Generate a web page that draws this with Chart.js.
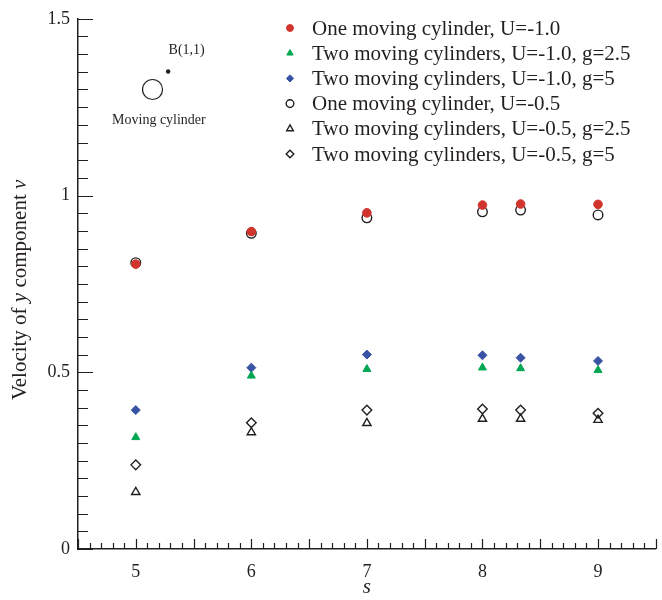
<!DOCTYPE html>
<html>
<head>
<meta charset="utf-8">
<script src="https://cdn.jsdelivr.net/npm/chart.js@4.4.1/dist/chart.umd.min.js"></script>
<style>
  body { margin: 0; background: #fff; }
  #wrap { width: 662px; height: 600px; }
</style>
</head>
<body>
<div id="wrap"><canvas id="velocityChart" width="662" height="600"></canvas></div>
<script>
// data
const sValues = [5, 6, 7, 8, 8.33, 9];
const oneU10 = [0.806, 0.898, 0.951, 0.973, 0.976, 0.975];
const twoU10g25 = [0.316, 0.490, 0.509, 0.513, 0.511, 0.506];
const twoU10g5 = [0.393, 0.513, 0.550, 0.548, 0.541, 0.532];
const oneU05 = [0.810, 0.893, 0.937, 0.954, 0.959, 0.945];
const twoU05g25 = [0.161, 0.330, 0.356, 0.368, 0.368, 0.365];
const twoU05g5 = [0.238, 0.357, 0.393, 0.396, 0.393, 0.384];
const xTicks = [5, 6, 7, 8, 9];
const yTicks = [0, 0.5, 1, 1.5];

const ink = '#231f20';
const serif = "'Liberation Serif', 'Times New Roman', serif";

function pts(vals) {
    return sValues.map((s, i) => ({ x: s, y: vals[i] }));
}

function series(label, vals, style, radius, fill, stroke, bw) {
    return {
        label: label,
        data: pts(vals),
        pointStyle: style,
        pointRadius: radius,
        pointHoverRadius: radius,
        pointBackgroundColor: fill,
        pointBorderColor: stroke,
        pointBorderWidth: bw,
        showLine: false
    };
}

// axis minor ticks, drawn inward like the original
const minorTicks = {
    id: 'minorTicks',
    afterDraw(chart) {
        const ctx = chart.ctx;
        const x = chart.scales.x, y = chart.scales.y;
        const a = chart.chartArea;
        ctx.save();
        ctx.strokeStyle = ink;
        ctx.lineWidth = 1.2;
        ctx.beginPath();
        for (let k = 45; k <= 95; k++) {
            const px = Math.round(x.getPixelForValue(k / 10)) + 0.5;
            const len = k % 5 === 0 ? 10 : 6;
            ctx.moveTo(px, a.bottom);
            ctx.lineTo(px, a.bottom - len);
        }
        for (let k = 0; k <= 30; k++) {
            const py = Math.round(y.getPixelForValue(k / 20)) + 0.5;
            const len = k % 10 === 0 ? 15 : 10;
            ctx.moveTo(a.left, py);
            ctx.lineTo(a.left + len, py);
        }
        ctx.stroke();
        ctx.restore();
    }
};

// y title with italic letters, the inset sketch and the legend
const extras = {
    id: 'extras',
    afterDraw(chart) {
        const ctx = chart.ctx;
        const a = chart.chartArea;
        const x = chart.scales.x, y = chart.scales.y;
        ctx.save();
        ctx.fillStyle = ink;

        // y axis title
        const parts = [['Velocity of ', ''], ['y', 'italic '], [' component ', ''], ['v', 'italic ']];
        let total = 0;
        parts.forEach(p => { ctx.font = p[1] + '21px ' + serif; total += ctx.measureText(p[0]).width; });
        ctx.translate(20, (a.top + a.bottom) / 2 + 6);
        ctx.rotate(-Math.PI / 2);
        ctx.textBaseline = 'middle';
        ctx.textAlign = 'left';
        let cx = -total / 2;
        parts.forEach(p => {
            ctx.font = p[1] + '21px ' + serif;
            ctx.fillText(p[0], cx, 0);
            cx += ctx.measureText(p[0]).width;
        });
        ctx.setTransform(1, 0, 0, 1, 0, 0);

        // inset: moving cylinder and point B
        ctx.strokeStyle = ink;
        ctx.lineWidth = 1.2;
        ctx.beginPath();
        ctx.arc(x.getPixelForValue(5.145), y.getPixelForValue(1.30), 10, 0, Math.PI * 2);
        ctx.stroke();
        ctx.beginPath();
        ctx.arc(x.getPixelForValue(5.28), y.getPixelForValue(1.351), 2.2, 0, Math.PI * 2);
        ctx.fill();
        ctx.font = '14px ' + serif;
        ctx.textAlign = 'center';
        ctx.textBaseline = 'middle';
        ctx.fillText('B(1,1)', x.getPixelForValue(5.44), y.getPixelForValue(1.41));
        ctx.fillText('Moving cylinder', x.getPixelForValue(5.2), y.getPixelForValue(1.213));

        // legend
        ctx.font = '21px ' + serif;
        ctx.textAlign = 'left';
        chart.data.datasets.forEach((ds, i) => {
            const ly = 28 + 25.2 * i;
            ctx.fillStyle = ds.pointBackgroundColor;
            ctx.strokeStyle = ds.pointBorderColor;
            ctx.lineWidth = ds.pointBorderWidth;
            Chart.helpers.drawPoint(ctx, {
                pointStyle: ds.pointStyle,
                radius: ds.pointRadius * 0.8,
                rotation: 0,
                borderWidth: ds.pointBorderWidth
            }, 290, ly);
            ctx.fillStyle = ink;
            ctx.fillText(ds.label, 312, ly + 1);
        });
        ctx.restore();
    }
};

const red = '#d0342c', green = '#00a651', blue = '#3953a4', none = 'rgba(0,0,0,0)';

new Chart(document.getElementById('velocityChart'), {
    type: 'scatter',
    data: {
        datasets: [
            series('One moving cylinder, U=-1.0', oneU10, 'circle', 4.3, red, red, 1),
            series('Two moving cylinders, U=-1.0, g=2.5', twoU10g25, 'triangle', 4.6, green, green, 1),
            series('Two moving cylinders, U=-1.0, g=5', twoU10g5, 'rectRot', 4.5, blue, blue, 1),
            series('One moving cylinder, U=-0.5', oneU05, 'circle', 4.8, none, ink, 1.4),
            series('Two moving cylinders, U=-0.5, g=2.5', twoU05g25, 'triangle', 4.8, none, ink, 1.4),
            series('Two moving cylinders, U=-0.5, g=5', twoU05g5, 'rectRot', 4.8, none, ink, 1.4)
        ]
    },
    options: {
        responsive: false,
        animation: false,
        layout: { padding: { top: 16, right: 1, left: 0, bottom: 0 } },
        plugins: {
            legend: { display: false },
            tooltip: { enabled: false }
        },
        scales: {
            x: {
                type: 'linear',
                min: 4.5,
                max: 9.5,
                afterFit: s => { s.height = 51; },
                afterBuildTicks: s => { s.ticks = xTicks.map(v => ({ value: v })); },
                grid: { display: false, drawTicks: false },
                border: { display: true, color: ink, width: 1.5 },
                ticks: {
                    color: ink,
                    padding: 12,
                    font: { family: serif, size: 18 },
                    callback: v => String(v)
                },
                title: {
                    display: true,
                    text: 's',
                    color: ink,
                    font: { family: serif, size: 21, style: 'italic' },
                    padding: { top: 0, bottom: 0 }
                }
            },
            y: {
                min: 0,
                max: 1.5,
                afterFit: s => { s.width = 78; },
                afterBuildTicks: s => { s.ticks = yTicks.map(v => ({ value: v })); },
                grid: { display: false, drawTicks: false },
                border: { display: true, color: ink, width: 1.5 },
                ticks: {
                    color: ink,
                    padding: 8,
                    font: { family: serif, size: 18 },
                    callback: v => String(v)
                }
            }
        }
    },
    plugins: [minorTicks, extras]
});
</script>
</body>
</html>
